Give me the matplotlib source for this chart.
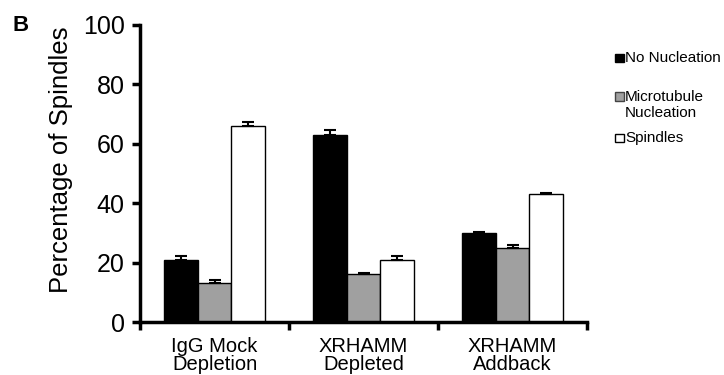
import numpy as np
import matplotlib
matplotlib.use('Agg')
import matplotlib.pyplot as plt
from matplotlib.patches import Rectangle

plt.rcParams['font.family'] = ['Liberation Sans', 'DejaVu Sans']

groups = ['IgG Mock\nDepletion', 'XRHAMM\nDepleted', 'XRHAMM\nAddback']
series = ['No Nucleation', 'Microtubule\nNucleation', 'Spindles']
no_nuc = [21, 63, 30]
no_nuc_err = [1.3, 1.6, 0.4]
mt_nuc = [13, 16, 25]
mt_nuc_err = [1.1, 0.6, 0.9]
spindles = [66, 21, 43]
spindles_err = [1.2, 1.3, 0.3]
yticks = [0, 20, 40, 60, 80, 100]

colors = ['black', '#a0a0a0', 'white']
values = [no_nuc, mt_nuc, spindles]
errs = [no_nuc_err, mt_nuc_err, spindles_err]

W, H = 724, 375
fig = plt.figure(figsize=(W / 100, H / 100), dpi=100)
ax = fig.add_axes([140 / W, 53 / H, 447 / W, 297 / H])

x = np.arange(len(groups))
w = 0.225
for i in range(3):
    err = np.array(errs[i])
    ax.bar(x + (i - 1) * w, values[i], w, color=colors[i], edgecolor='black',
           linewidth=1.0, label=series[i],
           yerr=[np.zeros_like(err), err], capsize=4,
           error_kw=dict(ecolor='black', elinewidth=1.5, capthick=1.5))

ax.set_xlim(-0.5, 2.5)
ax.set_ylim(0, 100)
ax.set_yticks(yticks)
ax.set_xticks([-0.5, 0.5, 1.5, 2.5])
ax.set_xticklabels([])
ax.set_xticks(x, minor=True)
ax.set_xticklabels(groups, minor=True, fontsize=14.5, linespacing=0.9)
ax.tick_params(axis='x', which='minor', length=0, pad=11)
ax.tick_params(axis='x', which='major', direction='out', length=6, width=2.5)
ax.tick_params(axis='y', direction='out', length=6, width=2.5, labelsize=18, pad=5)
for s in ['top', 'right']:
    ax.spines[s].set_visible(False)
for s in ['left', 'bottom']:
    ax.spines[s].set_linewidth(2.5)
ax.set_ylabel('Percentage of Spindles', fontsize=18.5)
ax.yaxis.set_label_coords(-0.15, 0.545)

fig.text(13 / W, 1 - 31 / H, 'B', fontsize=16, fontweight='bold')

# legend drawn by hand: square + label, positions in pixels from the top
leg_y = [53, 92, 133]
for i in range(3):
    fig.add_artist(Rectangle((615 / W, 1 - (leg_y[i] + 9) / H), 8.5 / W, 8.5 / H,
                             transform=fig.transFigure, facecolor=colors[i],
                             edgecolor='black' if i != 1 else '#444444',
                             linewidth=1.0))
    fig.text(625 / W, 1 - (leg_y[i] - 2) / H, series[i], fontsize=11,
             va='top', ha='left', linespacing=1.15)

fig.savefig('out.png', dpi=100)
